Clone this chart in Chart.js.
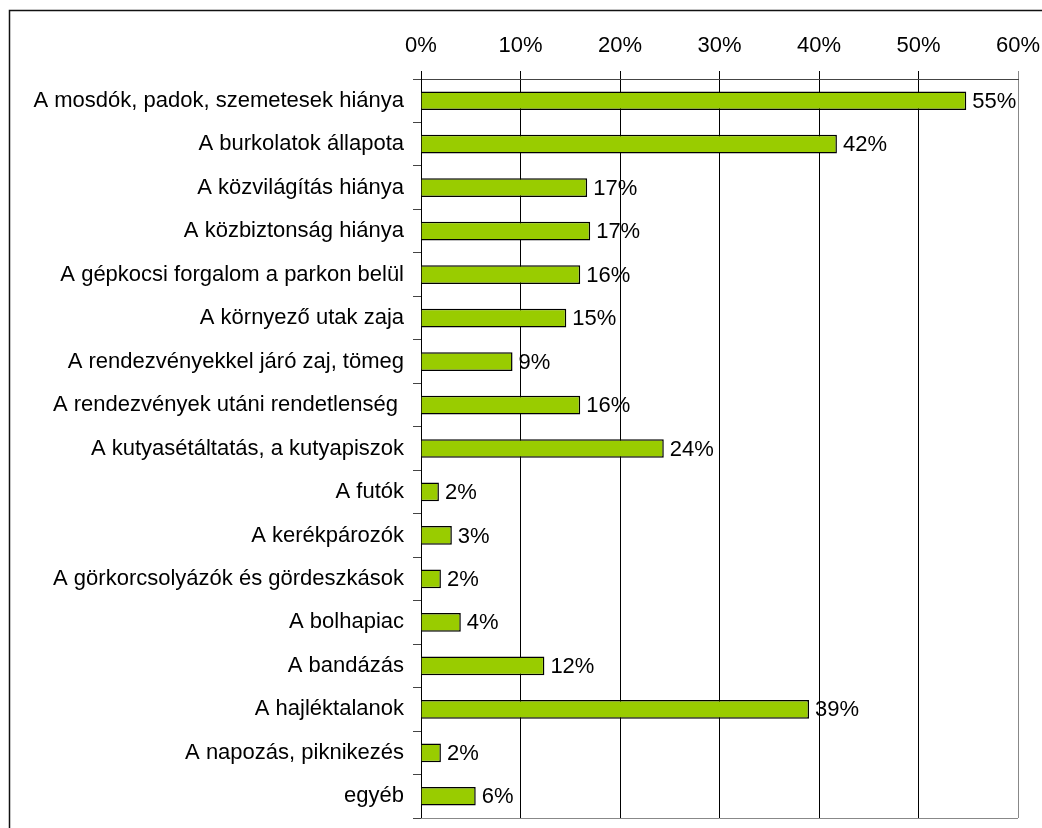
<!DOCTYPE html>
<html>
<head>
<meta charset="utf-8">
<script src="https://cdn.jsdelivr.net/npm/chart.js@4"></script>
<style>
  html, body { margin: 0; padding: 0; background: #fff; }
  #wrap { width: 1042px; height: 828px; }
</style>
</head>
<body>
<div id="wrap"><canvas id="myChart" width="1042" height="828"></canvas></div>
<script>
const categories = [
  "A mosdók, padok, szemetesek hiánya",
  "A burkolatok állapota",
  "A közvilágítás hiánya",
  "A közbiztonság hiánya",
  "A gépkocsi forgalom a parkon belül",
  "A környező utak zaja",
  "A rendezvényekkel járó zaj, tömeg",
  "A rendezvények utáni rendetlenség ",
  "A kutyasétáltatás, a kutyapiszok",
  "A futók",
  "A kerékpározók",
  "A görkorcsolyázók és gördeszkások",
  "A bolhapiac",
  "A bandázás",
  "A hajléktalanok",
  "A napozás, piknikezés",
  "egyéb"
];
const values = [54.8, 41.8, 16.7, 17.0, 16.0, 14.6, 9.2, 16.0, 24.4, 1.8, 3.1, 2.0, 4.0, 12.4, 39.0, 2.0, 5.5];
const tickValues = [0, 10, 20, 30, 40, 50, 60];

const FONT = "'Liberation Sans', Arial, sans-serif";
const FSIZE = 22;

// white background + outer frame + bottom border of plot
const framePlugin = {
  id: 'frame',
  beforeDraw(chart) {
    const ctx = chart.ctx;
    ctx.save();
    ctx.fillStyle = '#fff';
    ctx.fillRect(0, 0, chart.width, chart.height);
    ctx.strokeStyle = '#111';
    ctx.lineWidth = 1.5;
    ctx.beginPath();
    ctx.moveTo(9.5, chart.height + 2);
    ctx.lineTo(9.5, 10.5);
    ctx.lineTo(chart.width + 2, 10.5);
    ctx.stroke();
    ctx.restore();
  },
  afterDraw(chart) {
    const a = chart.chartArea;
    const ctx = chart.ctx;
    ctx.save();
    ctx.strokeStyle = '#888';
    ctx.lineWidth = 1;
    ctx.beginPath();
    ctx.moveTo(a.left, Math.round(a.bottom) + 0.5);
    ctx.lineTo(a.right, Math.round(a.bottom) + 0.5);
    ctx.stroke();
    ctx.restore();
  }
};

// value labels right of each bar
const valueLabels = {
  id: 'valueLabels',
  afterDatasetsDraw(chart) {
    const ctx = chart.ctx;
    const meta = chart.getDatasetMeta(0);
    ctx.save();
    ctx.font = FSIZE + 'px ' + FONT;
    ctx.fillStyle = '#000';
    ctx.textAlign = 'left';
    ctx.textBaseline = 'middle';
    meta.data.forEach((bar, i) => {
      ctx.fillText(Math.round(values[i]) + '%', bar.x + 6, bar.y + 1);
    });
    ctx.restore();
  }
};

Chart.defaults.font.family = FONT;
Chart.defaults.font.size = FSIZE;
Chart.defaults.color = '#000';

new Chart(document.getElementById('myChart').getContext('2d'), {
  type: 'bar',
  data: {
    labels: categories,
    datasets: [{
      data: values,
      backgroundColor: '#99cc00',
      borderColor: '#000',
      borderWidth: 1.5,
      barPercentage: 0.43,
      categoryPercentage: 1
    }]
  },
  options: {
    indexAxis: 'y',
    responsive: false,
    animation: false,
    layout: { padding: { left: 0, top: 0, right: 24, bottom: 10 } },
    plugins: {
      legend: { display: false },
      tooltip: { enabled: false }
    },
    scales: {
      x: {
        position: 'top',
        min: 0,
        max: 60,
        afterBuildTicks: s => { s.ticks = tickValues.map(v => ({ value: v })); },
        afterFit: s => { s.height = 79; s.paddingLeft = 0; s.paddingRight = 0; },
        ticks: {
          padding: 12,
          maxRotation: 0,
          callback: v => v + '%'
        },
        grid: {
          color: ctx => (ctx.tick && ctx.tick.value === 60) ? '#888' : '#000',
          lineWidth: 1,
          tickLength: 8,
          drawTicks: true
        },
        border: { display: true, color: '#444' }
      },
      y: {
        afterFit: s => { s.width = 421; s.paddingTop = 0; s.paddingBottom = 0; },
        ticks: {
          padding: 9
        },
        grid: {
          offset: true,
          drawOnChartArea: false,
          drawTicks: true,
          tickLength: 8,
          color: '#444'
        },
        border: { display: true, color: '#000' }
      }
    }
  },
  plugins: [framePlugin, valueLabels]
});
</script>
</body>
</html>
